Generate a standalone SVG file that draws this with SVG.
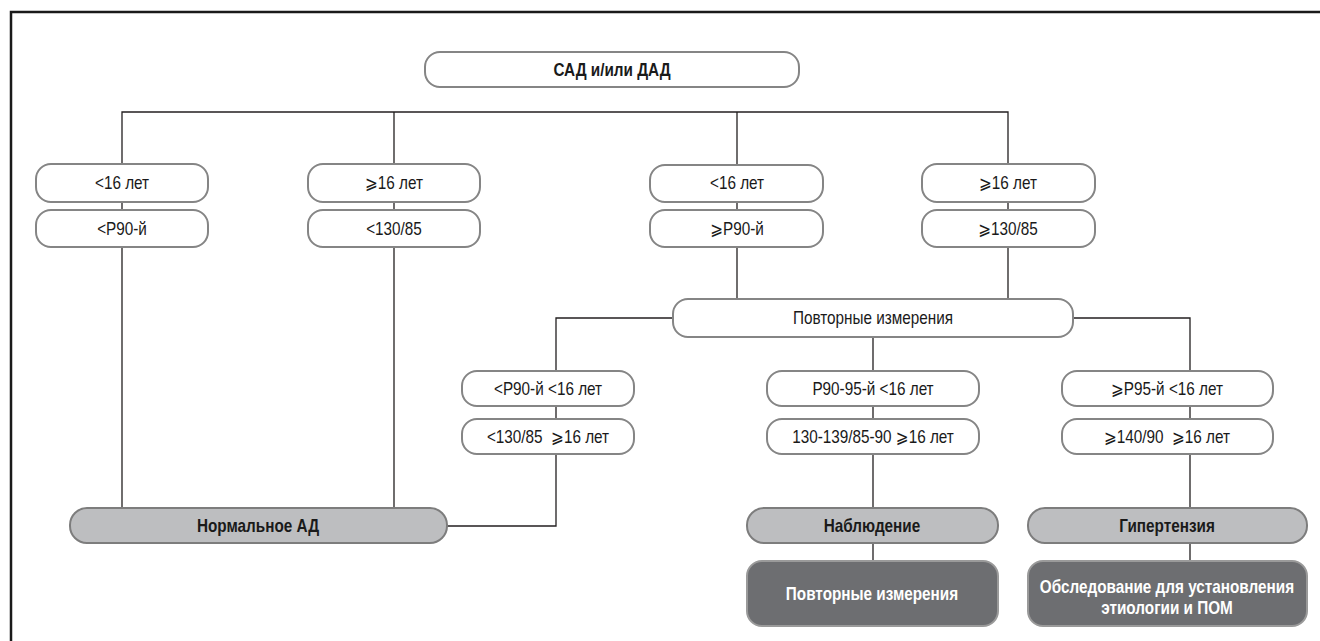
<svg xmlns="http://www.w3.org/2000/svg" width="1320" height="641" viewBox="0 0 1320 641">
<style>
text{font-family:"Liberation Sans","DejaVu Sans",sans-serif;font-size:18px;text-anchor:middle;fill:#1a1a1a}
.b{font-weight:bold}
.w{fill:#ffffff;font-weight:bold}
.p{fill:#ffffff;stroke:#858585;stroke-width:2}
.g{fill:#bdbec0;stroke:#7d7d7d;stroke-width:2}
.d{fill:#6d6e71;stroke:#9a9a9a;stroke-width:2}
.c{fill:none;stroke:#231f20;stroke-width:1.3}
</style>
<rect width="1320" height="641" fill="#ffffff"/>
<path d="M11,641 V12 H1320" fill="none" stroke="#1a1a1a" stroke-width="2.5"/>
<g id="connectors">
<path class="c" d="M122,164 V112 H1008 V164"/>
<path class="c" d="M394,112 V164"/>
<path class="c" d="M737,112 V166"/>
<path class="c" d="M122,202 V210 M394,202 V210 M737,202 V210 M1008,202 V210"/>
<path class="c" d="M122,247 V508"/>
<path class="c" d="M394,247 V508"/>
<path class="c" d="M737,247 V299"/>
<path class="c" d="M1008,247 V299"/>
<path class="c" d="M673,318 H556 V371 M556,406 V419 M556,454 V526 H447"/>
<path class="c" d="M873,337 V371 M873,406 V419 M873,454 V508 M873,543 V561"/>
<path class="c" d="M1073,318 H1190 V371 M1190,406 V419 M1190,454 V508 M1190,543 V561"/>
</g>
<g id="n-top"><rect class="p" x="425" y="52" width="374" height="35" rx="15"/><text class="b" transform="translate(612 76) scale(0.85 1)">САД и/или ДАД</text></g>
<g id="n-a1"><rect class="p" x="36" y="164" width="172" height="38" rx="15"/><text transform="translate(122 189) scale(0.85 1)">&lt;16 лет</text></g>
<g id="n-a2"><rect class="p" x="36" y="210" width="172" height="37" rx="15"/><text transform="translate(122 235) scale(0.85 1)">&lt;P90-й</text></g>
<g id="n-b1"><rect class="p" x="308" y="164" width="172" height="38" rx="15"/><text transform="translate(394 189) scale(0.85 1)">⩾16 лет</text></g>
<g id="n-b2"><rect class="p" x="308" y="210" width="172" height="37" rx="15"/><text transform="translate(394 235) scale(0.85 1)">&lt;130/85</text></g>
<g id="n-c1"><rect class="p" x="650" y="165" width="173" height="37" rx="15"/><text transform="translate(737 189) scale(0.85 1)">&lt;16 лет</text></g>
<g id="n-c2"><rect class="p" x="650" y="210" width="173" height="37" rx="15"/><text transform="translate(737 235) scale(0.85 1)">⩾P90-й</text></g>
<g id="n-d1"><rect class="p" x="922" y="164" width="173" height="38" rx="15"/><text transform="translate(1008 189) scale(0.85 1)">⩾16 лет</text></g>
<g id="n-d2"><rect class="p" x="922" y="210" width="173" height="37" rx="15"/><text transform="translate(1008 235) scale(0.85 1)">⩾130/85</text></g>
<g id="n-rep"><rect class="p" x="673" y="299" width="400" height="38" rx="15"/><text transform="translate(873 324) scale(0.85 1)">Повторные измерения</text></g>
<g id="n-e1"><rect class="p" x="462" y="371" width="172" height="35" rx="15"/><text transform="translate(548 395) scale(0.85 1)">&lt;P90-й &lt;16 лет</text></g>
<g id="n-e2"><rect class="p" x="462" y="419" width="172" height="35" rx="15"/><text transform="translate(548 443) scale(0.85 1)" xml:space="preserve">&lt;130/85  ⩾16 лет</text></g>
<g id="n-f1"><rect class="p" x="767" y="371" width="212" height="35" rx="15"/><text transform="translate(873 395) scale(0.85 1)">P90-95-й &lt;16 лет</text></g>
<g id="n-f2"><rect class="p" x="767" y="419" width="212" height="35" rx="15"/><text transform="translate(873 443) scale(0.85 1)">130-139/85-90 ⩾16 лет</text></g>
<g id="n-h1"><rect class="p" x="1062" y="371" width="211" height="35" rx="15"/><text transform="translate(1167 395) scale(0.85 1)">⩾P95-й &lt;16 лет</text></g>
<g id="n-h2"><rect class="p" x="1062" y="419" width="211" height="35" rx="15"/><text transform="translate(1167 443) scale(0.85 1)" xml:space="preserve">⩾140/90  ⩾16 лет</text></g>
<g id="n-norm"><rect class="g" x="70" y="508" width="377" height="35" rx="17"/><text class="b" transform="translate(258 532) scale(0.85 1)">Нормальное АД</text></g>
<g id="n-obs"><rect class="g" x="747" y="508" width="251" height="35" rx="17"/><text class="b" transform="translate(872 532) scale(0.85 1)">Наблюдение</text></g>
<g id="n-hyp"><rect class="g" x="1028" y="508" width="279" height="35" rx="17"/><text class="b" transform="translate(1167 532) scale(0.85 1)">Гипертензия</text></g>
<g id="n-rep2"><rect class="d" x="747" y="561" width="251" height="65" rx="15"/><text class="w" transform="translate(872 600) scale(0.85 1)">Повторные измерения</text></g>
<g id="n-exam"><rect class="d" x="1028" y="561" width="279" height="65" rx="15"/><text class="w" transform="translate(1167 593) scale(0.85 1)">Обследование для установления</text><text class="w" transform="translate(1167 614) scale(0.85 1)">этиологии и ПОМ</text></g>
</svg>
